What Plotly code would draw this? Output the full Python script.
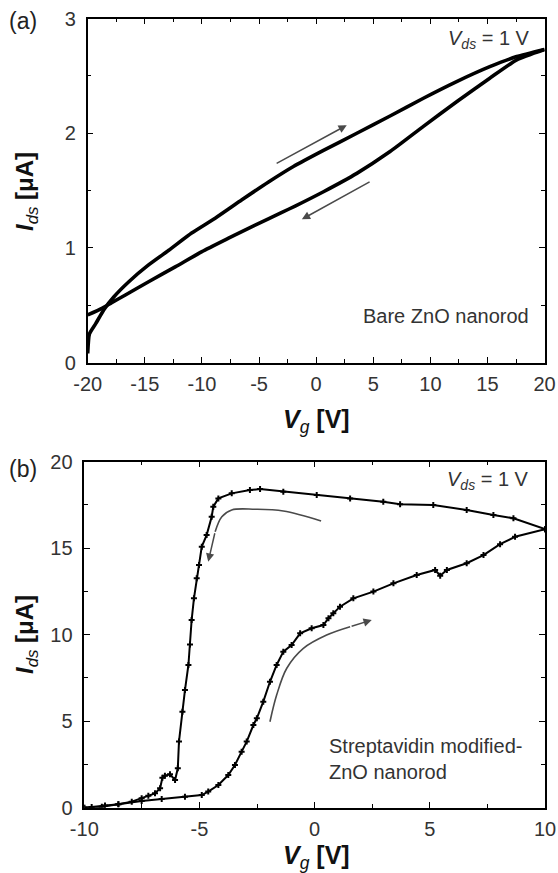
import plotly.graph_objects as go

# ---------------- Panel (a): bare ZnO nanorod ----------------
a_fwd_vg = [-20, -19.85, -19.3, -18.6, -17.7, -16.4, -14.7, -12.9, -10.9, -8.84, -6.5,
            -4.17, -1.99, 0.64, 3.56, 6.47, 9.39, 12.3, 15.2, 17.56, 20]
a_fwd_ids = [0.08, 0.25, 0.34, 0.46, 0.575, 0.706, 0.85, 0.98, 1.13, 1.26, 1.42,
             1.575, 1.71, 1.85, 2.0, 2.15, 2.305, 2.45, 2.58, 2.668, 2.73]
a_rev_vg = [20, 17.56, 15.2, 12.3, 9.39, 6.47, 3.56, 0.64, -1.84, -3.0, -5.34,
            -7.67, -10, -12.3, -14.67, -16.7, -17.9, -18.75, -20]
a_rev_ids = [2.73, 2.64, 2.48, 2.275, 2.06, 1.84, 1.65, 1.49, 1.365, 1.31, 1.2,
             1.085, 0.968, 0.837, 0.706, 0.59, 0.523, 0.474, 0.416]

# ---------------- Panel (b): streptavidin-modified ZnO nanorod ----------------
b_down_vg = [10, 8.63, 7.76, 6.6, 5.15, 3.71, 2.98, 1.54, 0.09, -1.36, -2.37, -2.81,
             -3.6, -4.18, -4.40, -4.47, -4.69, -4.9, -5.02, -5.12, -5.24, -5.34, -5.41,
             -5.48, -5.63, -5.74, -5.89, -5.94, -6.06, -6.28, -6.5, -6.61, -6.71, -6.93,
             -7.22, -7.51, -7.94, -8.52, -9.1, -9.68, -10]
b_down_ids = [16.1, 16.73, 16.92, 17.21, 17.5, 17.54, 17.69, 17.88, 18.08, 18.27, 18.42, 18.36,
              18.17, 17.88, 17.4, 16.82, 15.76, 15.09, 14.03, 13.26, 12.1, 10.85, 9.44,
              8.25, 6.8, 5.55, 3.82, 2.28, 1.6, 1.93, 1.85, 1.73, 1.12, 0.83,
              0.69, 0.54, 0.35, 0.2, 0.12, 0.04, 0.0]
b_up_vg = [-10, -9.24, -8.52, -7.51, -6.64, -5.63, -4.9, -4.62, -4.18, -3.75, -3.46, -3.17,
           -2.95, -2.66, -2.51, -2.23, -1.94, -1.65, -1.36, -1.0, -0.63, -0.13, 0.38, 0.6,
           0.81, 1.1, 1.68, 2.55, 3.42, 4.43, 5.23, 5.45, 5.74, 6.6, 7.33, 8.05, 8.7, 10]
b_up_ids = [0.0, 0.05, 0.2, 0.39, 0.5, 0.64, 0.73, 0.93, 1.31, 1.89, 2.47, 3.24,
            3.82, 4.78, 5.17, 6.13, 7.28, 8.25, 9.02, 9.4, 10.08, 10.37, 10.56, 10.95,
            11.24, 11.62, 12.1, 12.49, 12.97, 13.45, 13.74, 13.41, 13.74, 14.13, 14.6, 15.23, 15.66, 16.1]

# tick values / labels
a_xticks = [-20, -15, -10, -5, 0, 5, 10, 15, 20]
a_xlabels = ["-20", "-15", "-10", "-5", "0", "5", "10", "15", "20"]
a_yticks = [0, 1, 2, 3]
a_ylabels = ["0", "1", "2", "3"]
b_xticks = [-10, -5, 0, 5, 10]
b_xlabels = ["-10", "-5", "0", "5", "10"]
b_yticks = [0, 5, 10, 15, 20]
b_ylabels = ["0", "5", "10", "15", "20"]

# sweep-direction arrows (guides drawn on the chart)
a_arrow_up = [(-3.59, 1.73), (2.68, 2.07)]
a_arrow_down = [(4.81, 1.584), (-1.25, 1.25)]
b_arrow_down_x = [0.28, -1.36, -2.59, -3.6, -4.03, -4.32, -4.62]
b_arrow_down_y = [16.57, 17.15, 17.25, 17.21, 16.82, 15.95, 14.22]
b_arrow_up_x = [-1.94, -1.65, -1.21, -0.49, 0.52, 1.54, 2.48]
b_arrow_up_y = [4.97, 6.51, 8.06, 9.21, 9.98, 10.46, 10.85]

FONT = "Liberation Sans, Arial, sans-serif"
ARROW_COL = "#4a4a4a"

W, H = 558, 873
def PX(px):
    return px / W
def PY(py):
    return 1 - py / H

fig = go.Figure()
for xs, ys in [(a_fwd_vg, a_fwd_ids), (a_rev_vg, a_rev_ids)]:
    fig.add_trace(go.Scatter(x=xs, y=ys, mode="lines",
                             line=dict(color="black", width=3.6, shape="spline", smoothing=0.5),
                             xaxis="x", yaxis="y", showlegend=False))
for xs, ys in [(b_down_vg, b_down_ids), (b_up_vg, b_up_ids)]:
    fig.add_trace(go.Scatter(x=xs, y=ys, mode="lines+markers", line=dict(color="black", width=2),
                             marker=dict(symbol="cross", size=5, color="black"),
                             xaxis="x2", yaxis="y2", showlegend=False))
# curved guide arrows in (b)
for xs, ys in [(b_arrow_down_x, b_arrow_down_y), (b_arrow_up_x, b_arrow_up_y)]:
    fig.add_trace(go.Scatter(x=xs[:-1], y=ys[:-1], mode="lines",
                             line=dict(color=ARROW_COL, width=1.6, shape="spline"),
                             xaxis="x2", yaxis="y2", showlegend=False, hoverinfo="skip"))

annotations = []
def arrow(p0, p1, xr, yr):
    annotations.append(dict(x=p1[0], y=p1[1], ax=p0[0], ay=p0[1], xref=xr, yref=yr,
                            axref=xr, ayref=yr, text="", showarrow=True, arrowhead=2,
                            arrowsize=1.1, arrowwidth=1.5, arrowcolor=ARROW_COL))

arrow(a_arrow_up[0], a_arrow_up[1], "x", "y")
arrow(a_arrow_down[0], a_arrow_down[1], "x", "y")
arrow((b_arrow_down_x[-2], b_arrow_down_y[-2]), (b_arrow_down_x[-1], b_arrow_down_y[-1]), "x2", "y2")
arrow((b_arrow_up_x[-2], b_arrow_up_y[-2]), (b_arrow_up_x[-1], b_arrow_up_y[-1]), "x2", "y2")

txt = dict(family=FONT, size=20, color="#333")
annotations += [
    dict(x=18.9, y=2.82, xref="x", yref="y", text="<i>V</i><sub><i>ds</i></sub> = 1 V",
         showarrow=False, xanchor="right", yanchor="middle", font=txt),
    dict(x=18.8, y=0.407, xref="x", yref="y", text="Bare ZnO nanorod",
         showarrow=False, xanchor="right", yanchor="middle", font=txt),
    dict(x=9.4, y=18.94, xref="x2", yref="y2", text="<i>V</i><sub><i>ds</i></sub> = 1 V",
         showarrow=False, xanchor="right", yanchor="middle", font=txt),
    dict(x=0.52, y=2.8, xref="x2", yref="y2", text="Streptavidin modified-<br>ZnO nanorod",
         showarrow=False, xanchor="left", yanchor="middle", align="left", font=txt),
    # panel labels
    dict(x=PX(7), y=PY(21), xref="paper", yref="paper", text="(a)", showarrow=False,
         xanchor="left", yanchor="middle", font=dict(family=FONT, size=23, color="#222")),
    dict(x=PX(7), y=PY(469), xref="paper", yref="paper", text="(b)", showarrow=False,
         xanchor="left", yanchor="middle", font=dict(family=FONT, size=23, color="#222")),
    # axis titles
    dict(x=PX(316), y=PY(421), xref="paper", yref="paper",
         text="<b><i>V</i></b><sub><i>g</i></sub><b> [V]</b>", showarrow=False,
         xanchor="center", yanchor="middle", font=dict(family=FONT, size=25, color="#111")),
    dict(x=PX(316), y=PY(857), xref="paper", yref="paper",
         text="<b><i>V</i></b><sub><i>g</i></sub><b> [V]</b>", showarrow=False,
         xanchor="center", yanchor="middle", font=dict(family=FONT, size=25, color="#111")),
    dict(x=PX(26), y=PY(192), xref="paper", yref="paper", textangle=-90,
         text="<b><i>I</i></b><sub><i>ds</i></sub><b> [μA]</b>", showarrow=False,
         xanchor="center", yanchor="middle", font=dict(family=FONT, size=24, color="#111")),
    dict(x=PX(26), y=PY(635), xref="paper", yref="paper", textangle=-90,
         text="<b><i>I</i></b><sub><i>ds</i></sub><b> [μA]</b>", showarrow=False,
         xanchor="center", yanchor="middle", font=dict(family=FONT, size=24, color="#111")),
]

def ax_style(rng, tickvals, ticktext, minor_dtick, domain, anchor, standoff):
    return dict(range=rng, tickmode="array", tickvals=tickvals, ticktext=ticktext,
                domain=domain, anchor=anchor, automargin=False, ticklabeloverflow="allow",
                showgrid=False, zeroline=False, showline=True, linecolor="black", linewidth=1.5,
                mirror="ticks", ticks="inside", ticklen=6, tickwidth=1.2, tickcolor="black",
                minor=dict(ticks="inside", tick0=rng[0], dtick=minor_dtick, ticklen=4, tickwidth=1,
                           tickcolor="black", showgrid=False),
                tickfont=dict(family=FONT, size=20, color="#333"), ticklabelstandoff=standoff)

fig.update_layout(
    width=W, height=H, margin=dict(l=0, r=0, t=0, b=0),
    paper_bgcolor="white", plot_bgcolor="white",
    xaxis=ax_style([-20, 20], a_xticks, a_xlabels, 2.5, [PX(87.7), PX(544.6)], "y", 3),
    yaxis=ax_style([0, 3], a_yticks, a_ylabels, 0.5, [PY(362.7), PY(18.5)], "x", 6),
    xaxis2=ax_style([-10, 10], b_xticks, b_xlabels, 2.5, [PX(84.3), PX(545)], "y2", 3),
    yaxis2=ax_style([0, 20], b_yticks, b_ylabels, 2.5, [PY(807.7), PY(461.7)], "x2", 6),
    annotations=annotations,
)

# remove the browser's default 8px body margin so the figure fills the window exactly
fig.write_html("out.html", config={"displayModeBar": False},
               post_script="document.body.style.margin='0';document.body.style.overflow='hidden';")
